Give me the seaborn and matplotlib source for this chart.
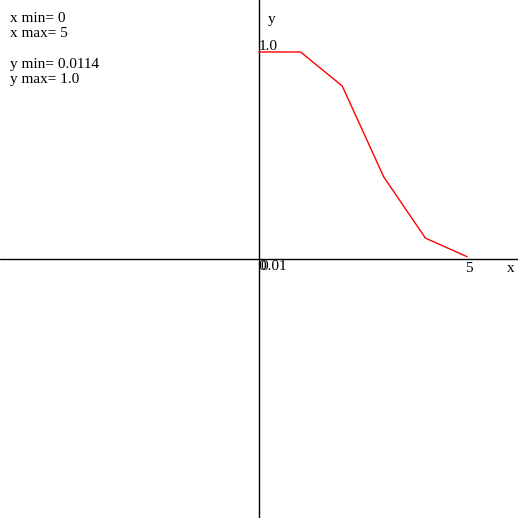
import matplotlib
matplotlib.use("Agg")
import matplotlib.pyplot as plt
import numpy as np
import pandas as pd
import seaborn as sns

# curve values
x_vals = [0, 1, 2, 3, 4, 5]
y_vals = [1.0, 1.0, 0.836, 0.396, 0.101, 0.0114]
info_lines = ["x min= 0", "x max= 5", "", "y min= 0.0114", "y max= 1.0"]

sns.set_theme(style="white")
plt.rcParams['font.family'] = ['Liberation Serif', 'DejaVu Serif']
plt.rcParams['text.color'] = 'black'

W = 518
fig = plt.figure(figsize=(W / 100, W / 100), dpi=100)
ax = fig.add_axes([0, 0, 1, 1])

# pixel scale: origin at 259px, 41.6 px per x unit, 207 px per y unit
xs, ys = 41.6, 207.0
ax.set_xlim(-259 / xs, (W - 259) / xs)
ax.set_ylim(-(W - 259) / ys, 259 / ys)
ax.set_axis_off()

ax.axhline(0, color="black", lw=1)
ax.axvline(0, color="black", lw=1)

df = pd.DataFrame({"x": x_vals, "y": y_vals})
sns.lineplot(data=df, x="x", y="y", color="red", lw=1, ax=ax)

fs = 11
def px(x, y):
    # pixel (from top-left) -> figure fraction
    return x / W, 1 - y / W

for i, s in enumerate(info_lines):
    fig.text(*px(10, 18 + 15.5 * i), s, fontsize=fs, va="center", ha="left", color="black")

# the "0" and "0.01" labels overlap at the origin, as in the original
fig.text(*px(258, 266), "0", fontsize=fs, va="center", ha="left", color="black")
fig.text(*px(260, 266), "0.01", fontsize=fs, va="center", ha="left", color="black")
fig.text(*px(259, 46), "1.0", fontsize=fs, va="center", ha="left", color="black")
fig.text(*px(469, 268), "5", fontsize=fs, va="center", ha="center", color="black")
fig.text(*px(511, 268), "x", fontsize=fs, va="center", ha="center", color="black")
fig.text(*px(272, 19), "y", fontsize=fs, va="center", ha="center", color="black")

fig.savefig("out.png", dpi=100, facecolor="white")
